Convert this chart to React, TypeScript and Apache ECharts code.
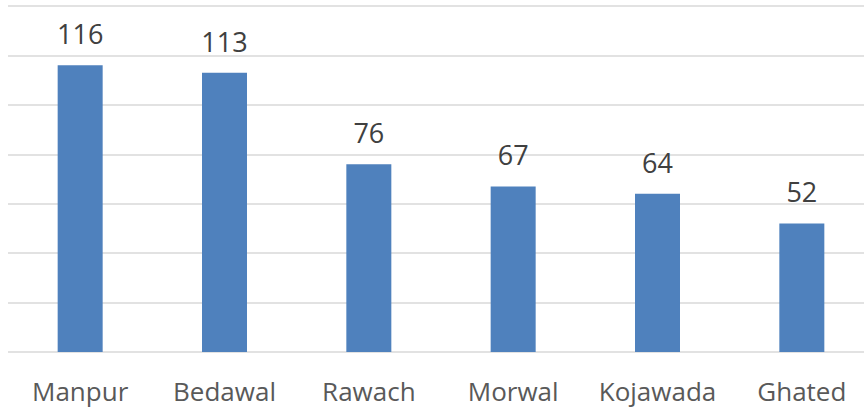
import React, { useEffect, useRef } from "react";
import * as echarts from "echarts";

const categories = ["Manpur", "Bedawal", "Rawach", "Morwal", "Kojawada", "Ghated"];
const values = [116, 113, 76, 67, 64, 52];
const yMin = 0;
const yMax = 140;
const yInterval = 20;

export default function App() {
  const ref = useRef<HTMLDivElement>(null);
  useEffect(() => {
    if (!ref.current) return;
    const chart = echarts.init(ref.current, null, { renderer: "svg" });
    chart.setOption({
      animation: false,
      backgroundColor: "#ffffff",
      grid: { left: 8, right: 2, top: 6, bottom: 58, containLabel: false },
      xAxis: {
        type: "category",
        data: categories,
        axisLine: { show: false },
        axisTick: { show: false },
        axisLabel: {
          interval: 0,
          color: "#595959",
          fontFamily: "Open Sans",
          fontSize: 26,
          margin: 26,
        },
      },
      yAxis: {
        type: "value",
        min: yMin,
        max: yMax,
        interval: yInterval,
        axisLabel: { show: false },
        axisLine: { show: false },
        axisTick: { show: false },
        splitLine: { lineStyle: { color: "#d9d9d9", width: 1.5 } },
      },
      series: [
        {
          type: "bar",
          data: values,
          barWidth: 45,
          itemStyle: { color: "#4F81BD" },
          label: {
            show: true,
            position: "top",
            distance: 18,
            color: "#404040",
            fontFamily: "Open Sans",
            fontSize: 27,
          },
        },
      ],
    });
    return () => chart.dispose();
  }, []);
  return (
    <div style={{ position: "fixed", left: 0, top: 0, width: 864, height: 410, overflow: "hidden", background: "#fff" }}>
      <div ref={ref} style={{ width: 876, height: 410 }} />
    </div>
  );
}
